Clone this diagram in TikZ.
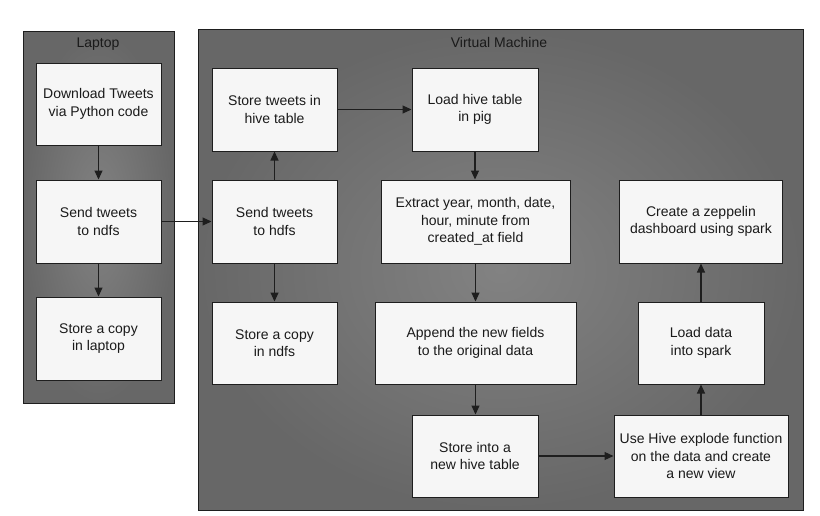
\documentclass[tikz,border=0pt]{standalone}
\usepackage{fontspec}
\setmainfont{Liberation Sans}
\usetikzlibrary{arrows.meta}
\definecolor{panelin}{HTML}{828282}
\definecolor{panelout}{HTML}{676767}
\definecolor{boxfill}{HTML}{F6F6F6}
\definecolor{edge}{HTML}{1E1E1E}
\definecolor{txt}{HTML}{1A1A1A}
\begin{document}
\begin{tikzpicture}[x=1pt,y=-1pt,
  every node/.style={font=\fontsize{14}{17.5}\selectfont, text=txt},
  stepbox/.style={draw=edge, line width=1pt, fill=boxfill, inner sep=0pt, align=center},
  title/.style={inner sep=0pt},
  flow/.style={draw=edge, line width=1.1pt, -{Triangle[length=9pt,width=8pt]}}]
\useasboundingbox (0,0) rectangle (820,515);
\fill[white] (0,0) rectangle (820,515);
% panels
\shade[inner color=panelin, outer color=panelout] (23,31) rectangle (174,403);
\draw[edge, line width=1pt] (23,31) rectangle (174,403);
\shade[inner color=panelin, outer color=panelout] (198,29) rectangle (803,510);
\draw[edge, line width=1pt] (198,29) rectangle (803,510);
\node[title] (tl) at (98,44) {Laptop};
\node[title] (tv) at (499,42) {Virtual Machine};
% laptop boxes
\node[stepbox, minimum width=125pt, minimum height=82pt] (dl) at (98.5,104) {Download Tweets\\via Python code};
\node[stepbox, minimum width=125pt, minimum height=83pt] (sn) at (98.5,221.5) {Send tweets\\to ndfs};
\node[stepbox, minimum width=125pt, minimum height=83pt] (sl) at (98.5,338.5) {Store a copy\\in laptop};
% VM left column
\node[stepbox, minimum width=125pt, minimum height=83pt] (sh) at (274.5,109.5) {Store tweets in\\hive table};
\node[stepbox, minimum width=125pt, minimum height=83pt] (hd) at (274.5,221.5) {Send tweets\\to hdfs};
\node[stepbox, minimum width=125pt, minimum height=82pt] (cn) at (274.5,343) {Store a copy\\in ndfs};
% VM middle column
\node[stepbox, minimum width=126pt, minimum height=83pt] (lp) at (475,109.5) {Load hive table\\in pig};
\node[stepbox, minimum width=189pt, minimum height=83pt] (ex) at (475.5,221.5) {Extract year, month, date,\\hour, minute from\\created\_at field};
\node[stepbox, minimum width=201pt, minimum height=82pt] (ap) at (475.5,343) {Append the new fields\\to the original data};
\node[stepbox, minimum width=126pt, minimum height=82pt] (nt) at (475,456) {Store into a\\new hive table};
% VM right column
\node[stepbox, minimum width=174pt, minimum height=82pt] (uh) at (701,456) {Use Hive explode function\\on the data and create\\a new view};
\node[stepbox, minimum width=126pt, minimum height=82pt] (ld) at (701,343) {Load data\\into spark};
\node[stepbox, minimum width=163pt, minimum height=83pt] (cz) at (701,221.5) {Create a zeppelin\\dashboard using spark};
% connectors
\draw[flow] (dl.south) -- (sn.north);
\draw[flow] (sn.south) -- (sl.north);
\draw[flow] (sn.east) -- (hd.west);
\draw[flow] (hd.north) -- (sh.south);
\draw[flow] (hd.south) -- (cn.north);
\draw[flow] (sh.east) -- (lp.west);
\draw[flow] (lp.south) -- (lp.south |- ex.north);
\draw[flow] (ex.south) -- (ex.south |- ap.north);
\draw[flow] (ap.south) -- (ap.south |- nt.north);
\draw[flow] (nt.east) -- (uh.west);
\draw[flow] (uh.north) -- (ld.south);
\draw[flow] (ld.north) -- (cz.south);
\end{tikzpicture}
\end{document}
